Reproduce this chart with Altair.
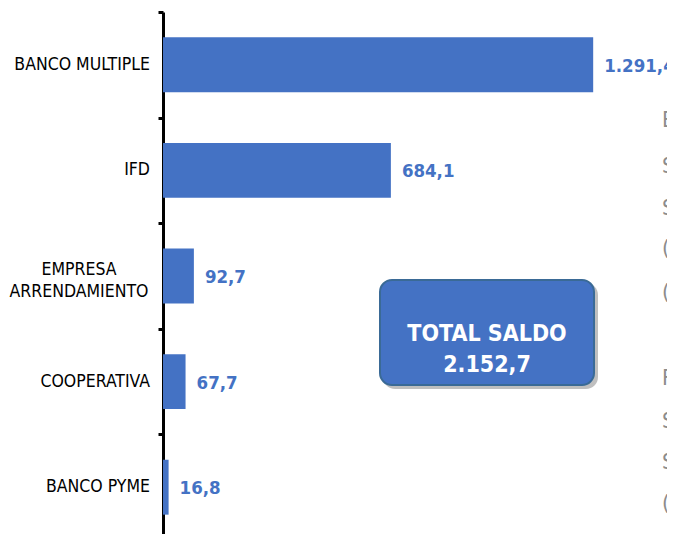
import altair as alt
import pandas as pd

categories = ["BANCO MULTIPLE", "IFD", "EMPRESA|ARRENDAMIENTO", "COOPERATIVA", "BANCO PYME"]
values = [1291.4, 684.1, 92.7, 67.7, 16.8]
value_labels = ["1.291,4", "684,1", "92,7", "67,7", "16,8"]
total_label = ["TOTAL SALDO", "2.152,7"]
side_letters = ["E", "S", "S", "(", "(", "F", "S", "S", "("]
side_rows = [108, 154, 196, 236, 280, 366, 409, 450, 491]

FONT = "DejaVu Sans Condensed"
BLUE = "#4472C4"

df = pd.DataFrame({"cat": categories, "val": values, "lbl": value_labels})
df["single"] = [("|" not in c) for c in categories]
df["lines"] = [c.split("|") for c in categories]

RANGE = 528
STEP = RANGE / 5

y_enc = alt.Y("cat:N", sort=categories, title=None,
              scale=alt.Scale(paddingInner=0.48, paddingOuter=0.24, range=[0, RANGE]),
              axis=alt.Axis(labels=False, domainColor="black", domainWidth=3,
                            tickColor="black", tickWidth=3, tickSize=5,
                            tickOffset=-STEP / 2, grid=False))
x_enc = alt.X("val:Q", title=None, scale=alt.Scale(domain=[0, 1513], nice=False), axis=None)

base = alt.Chart(df)

bars = base.mark_bar(color=BLUE).encode(x=x_enc, y=y_enc)

vals = base.mark_text(align="left", baseline="middle", dx=11, dy=1, fontSize=18.5,
                      fontWeight="bold", color=BLUE, font=FONT).encode(
    x="val:Q", y=alt.Y("cat:N", sort=categories), text="lbl:N")

labels_single = base.transform_filter("datum.single").mark_text(
    align="right", baseline="middle", fontSize=17.5, color="black", font=FONT
).encode(x=alt.value(-13), y=alt.Y("cat:N", sort=categories), text="cat:N")

labels_multi = base.transform_filter("!datum.single").mark_text(
    align="center", baseline="middle", fontSize=17.5, color="black", font=FONT,
    lineHeight=22, dy=-6
).encode(x=alt.value(-84), y=alt.Y("cat:N", sort=categories), text="lines")

box_df = pd.DataFrame({"t": ["\n".join(total_label)]})
shadow = alt.Chart(box_df).mark_rect(cornerRadius=12, color="#000000", opacity=0.25).encode(
    x=alt.value(220), x2=alt.value(435), y=alt.value(271), y2=alt.value(377))
box = alt.Chart(box_df).mark_rect(cornerRadius=12, color=BLUE, stroke="#3A6A96",
                                  strokeWidth=2).encode(
    x=alt.value(217), x2=alt.value(431), y=alt.value(268), y2=alt.value(373))
box_text = alt.Chart(pd.DataFrame({"t": [total_label]})).mark_text(
    align="center", baseline="middle", fontSize=23, fontWeight="bold",
    color="white", font=FONT, lineHeight=31).encode(
    x=alt.value(324), y=alt.value(322), text="t")

side_df = pd.DataFrame({"s": side_letters, "py": side_rows})
side = alt.Chart(side_df).mark_text(align="left", baseline="middle", fontSize=22,
                                    color="#8C8C8C", font="DejaVu Sans Condensed", clip=True).encode(
    x=alt.value(499), y=alt.Y("py:Q", scale=None), text="s")

chart = alt.layer(bars, vals, labels_single, labels_multi, shadow, box, box_text, side).properties(
    width=504, height=522,
    autosize=alt.AutoSizeParams(type="none"),
    padding={"left": 155, "top": 4, "right": 0, "bottom": 0},
).configure_view(stroke=None)

chart.save("out.html", embed_options={"renderer": "svg", "actions": False})
